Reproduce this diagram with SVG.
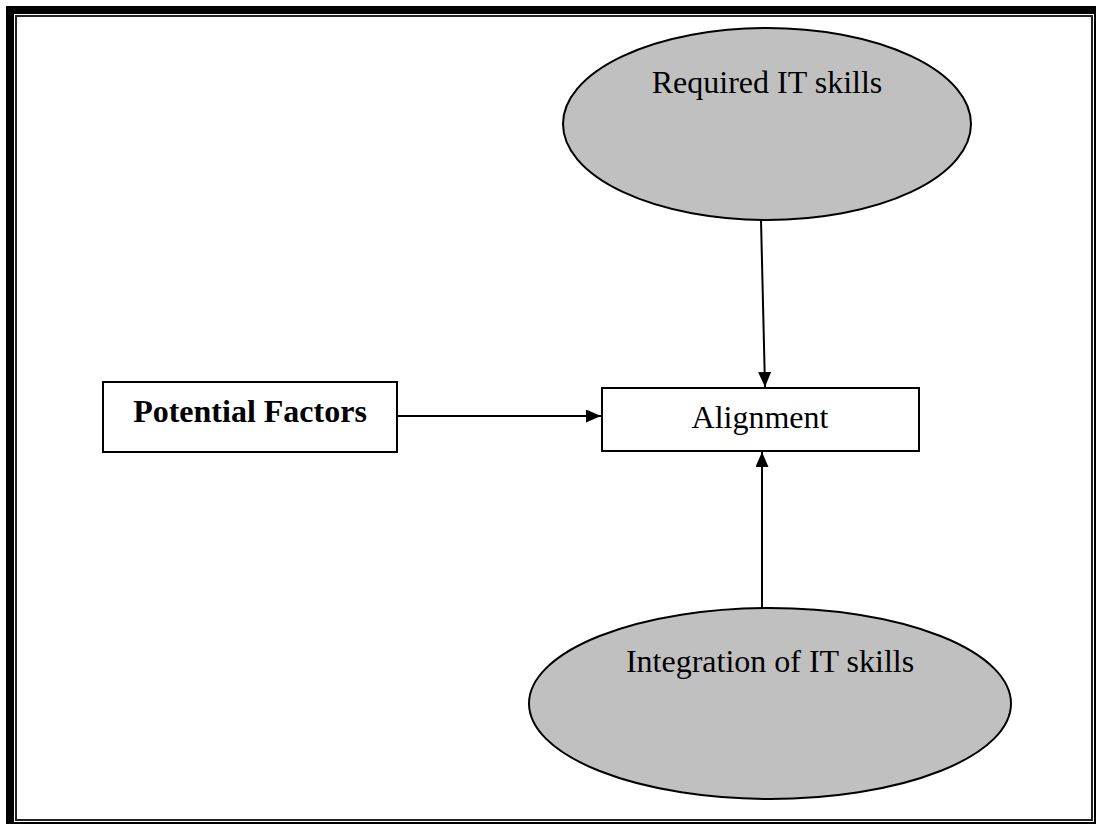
<svg xmlns="http://www.w3.org/2000/svg" width="1100" height="827" viewBox="0 0 1100 827">
<style>
.node{fill:#fff;stroke:#000;stroke-width:2}
.ell{fill:#c0c0c0;stroke:#000;stroke-width:2}
.t{font-family:"Liberation Serif","Times New Roman",serif;font-size:32px;fill:#000;text-anchor:middle}
.b{font-weight:bold}
.c{stroke:#000;stroke-width:2;fill:none}
</style>
<defs>
<marker id="ah" viewBox="0 0 15 13" refX="15" refY="6.5" markerWidth="15" markerHeight="13" markerUnits="userSpaceOnUse" orient="auto">
<path d="M0,0 L15,6.5 L0,13 Z" fill="#000"/>
</marker>
</defs>
<rect width="1100" height="827" fill="#fff"/>
<g id="frame">
<path d="M6,6 H1096 V824 H6 Z M14,14 V822 H1094 V14 Z" fill="#000" fill-rule="evenodd"/>
<rect x="16" y="16" width="1076" height="804" fill="none" stroke="#222" stroke-width="2"/>
</g>
<g id="connectors">
<line class="c" x1="761" y1="220" x2="765" y2="387" marker-end="url(#ah)"/>
<line class="c" x1="762" y1="608" x2="762" y2="452" marker-end="url(#ah)"/>
<line class="c" x1="398" y1="416" x2="601" y2="416" marker-end="url(#ah)"/>
</g>
<g id="required">
<ellipse class="ell" cx="767" cy="124" rx="204" ry="96"/>
<text class="t" x="767" y="93">Required IT skills</text>
</g>
<g id="integration">
<ellipse class="ell" cx="770" cy="703.5" rx="241" ry="95.5"/>
<text class="t" x="770" y="672">Integration of IT skills</text>
</g>
<g id="alignment">
<rect class="node" x="602" y="388" width="317" height="63"/>
<text class="t" x="760" y="428">Alignment</text>
</g>
<g id="potential">
<rect class="node" x="103" y="382" width="294" height="70"/>
<text class="t b" x="250" y="422">Potential Factors</text>
</g>
</svg>
